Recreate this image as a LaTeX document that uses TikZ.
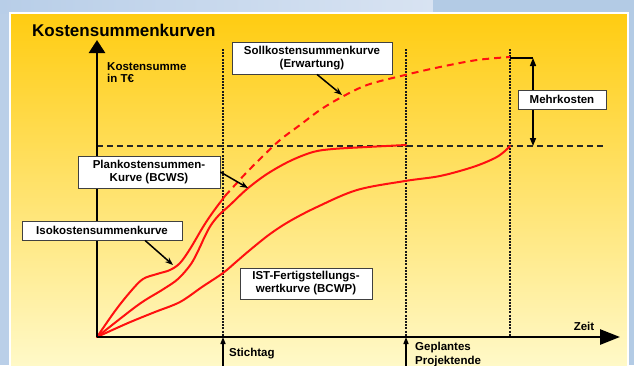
\documentclass[tikz,border=0pt]{standalone}
\usepackage{fontspec}
\setmainfont{Liberation Sans}
\usetikzlibrary{arrows.meta}
\definecolor{bgmain}{HTML}{BACFE8}
\definecolor{bga}{HTML}{B8CEE8}
\definecolor{bgb}{HTML}{D8E3F2}
\definecolor{bgright}{HTML}{B3CBE5}
\definecolor{paneltop}{HTML}{FFCC11}
\definecolor{panelmid}{HTML}{FFE585}
\definecolor{panelbot}{HTML}{FFF9C8}
\definecolor{curvered}{HTML}{FF1010}
\begin{document}
\begin{tikzpicture}[x=1pt,y=-1pt,
  every node/.style={font=\fontsize{11.5}{13}\selectfont\bfseries, text=black},
  boxlbl/.style={draw=black!75, line width=0.8pt, fill=white, align=center, inner sep=0pt},
  redcurve/.style={draw=curvered, line width=2pt, line cap=round, line join=round},
  reddash/.style={draw=curvered, line width=2pt, dash pattern=on 7pt off 5pt},
  axisline/.style={line width=2.7pt, draw=black},
  vguide/.style={line width=1.1pt, draw=black!90, dash pattern=on 2pt off 1.2pt},
  hguide/.style={line width=1.3pt, draw=black!85, dash pattern=on 6pt off 4pt},
  callout/.style={line width=1.5pt, draw=black, -{Stealth[length=8pt,width=6pt]}},
  uparrow/.style={line width=1.5pt, draw=black, -{Triangle[width=5pt,length=7pt]}}
  ]
\useasboundingbox (0,0) rectangle (634,365);
% background
\fill[bgmain] (0,0) rectangle (634,365);
\shade[left color=bga, right color=bgb] (0,0) rectangle (433,13);
\fill[bgright] (433,0) rectangle (634,13);
\fill[bgright] (628,13) rectangle (634,365);
\shade[top color=paneltop, middle color=panelmid, bottom color=panelbot] (10,13) rectangle (628,366);
\draw[white, line width=1.2pt] (10,367) -- (10,13) -- (628,13) -- (628,367);

% coordinates
\coordinate (O) at (97,337);
\coordinate (ytip) at (97,40);
\coordinate (xtip) at (620,337);
\coordinate (st-top) at (223,49);
\coordinate (st-ax) at (223,337);
\coordinate (st-bot) at (223,366);
\coordinate (pe-top) at (406,49);
\coordinate (pe-ax) at (406,337);
\coordinate (pe-bot) at (406,366);
\coordinate (ie-top) at (510,49);
\coordinate (ie-ax) at (510,337);
\coordinate (h1) at (97,146);
\coordinate (h2) at (604,146);
\coordinate (sollend) at (510,58);
\coordinate (mk-top) at (533,58);
\coordinate (mk-bot) at (533,146);

% guides
\draw[vguide] (st-top) -- (st-ax);
\draw[vguide] (pe-top) -- (pe-ax);
\draw[vguide] (ie-top) -- (ie-ax);
\draw[hguide] (h1) -- (h2);

% curves
\draw[redcurve] plot[smooth, tension=0.55] coordinates {(97,337) (115,311) (131,291) (143,279) (157,274) (170,270) (180,263) (190,249) (203,227) (213,212) (225,196)};
\draw[reddash] plot[smooth, tension=0.55] coordinates {(225,196) (235,185) (247,172) (262,157) (280,140) (300,125) (320,110) (340,98) (367,85) (405,75) (440,67) (477,60) (510,57)};
\draw[redcurve] plot[smooth, tension=0.55] coordinates {(97,337) (138,305) (162,290) (178,279) (191,264) (199,249) (205,236) (211,225) (219,215) (230,205) (247,189) (267,174) (290,161) (313,152) (333,149) (367,147) (406,145)};
\draw[redcurve] plot[smooth, tension=0.55] coordinates {(97,337) (128,323) (155,312) (180,302) (202,287) (223,273) (236,262) (250,250) (270,234) (290,221) (317,207) (357,190) (405,181) (440,176) (473,167) (495,158) (505,151) (510,146)};

% axes
\draw[axisline, -{Triangle[width=16pt,length=13pt]}] (O) -- (ytip);
\draw[axisline, -{Triangle[width=15pt,length=20pt]}] (O) -- (xtip);

% bottom markers
\draw[uparrow] (st-bot) -- (st-ax);
\draw[uparrow] (pe-bot) -- (pe-ax);

% Mehrkosten
\draw[line width=1.5pt] (sollend) -- (mk-top);
\draw[line width=1.5pt, {Triangle[width=6pt,length=8pt]}-{Triangle[width=6pt,length=8pt]}] (mk-top) -- (mk-bot);

% boxes
\node[boxlbl, minimum width=160pt, minimum height=32pt] (soll) at (312,58) {Sollkostensummenkurve\\(Erwartung)};
\node[boxlbl, minimum width=142pt, minimum height=32pt] (plan) at (149,172) {Plankostensummen-\\Kurve (BCWS)};
\node[boxlbl, minimum width=160pt, minimum height=19pt] (iso) at (102,230.5) {Isokostensummenkurve};
\node[boxlbl, minimum width=132pt, minimum height=31pt] (ist) at (306,283.5) {IST-Fertigstellungs-\\wertkurve (BCWP)};
\node[boxlbl, minimum width=88pt, minimum height=19pt] (mehr) at (562,99.5) {Mehrkosten};

% callouts
\coordinate (soll-tip) at (342,95);
\coordinate (plan-tip) at (248,188);
\coordinate (iso-tip) at (173,265);
\draw[callout] ([xshift=5pt]soll.south) -- (soll-tip);
\draw[callout] (plan.east) -- (plan-tip);
\draw[callout] ([xshift=43pt]iso.south) -- (iso-tip);

% texts
\node[anchor=base west, inner sep=0pt, font=\fontsize{17}{20}\selectfont\bfseries] (title) at (32,36.5) {Kostensummenkurven};
\node[anchor=north west, inner sep=0pt, align=left, font=\fontsize{11.5}{11.8}\selectfont\bfseries] (ylab) at (107,62.5) {Kostensumme\\in T€};
\node[anchor=base, inner sep=0pt] (zeit) at (584,330.5) {Zeit};
\node[anchor=base west, inner sep=0pt] (stich) at (229,356) {Stichtag};
\node[anchor=north west, inner sep=0pt, align=left, font=\fontsize{11.5}{13.5}\selectfont\bfseries] (gepl) at (415,342) {Geplantes\\Projektende};
\end{tikzpicture}
\end{document}
